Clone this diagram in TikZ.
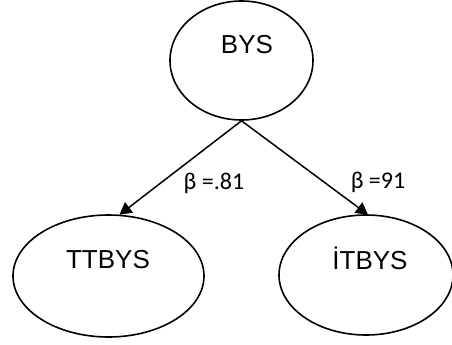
\documentclass[tikz,border=0pt]{standalone}
\usepackage{fontspec}
\setmainfont{Liberation Sans}
\newfontfamily\labfont{Carlito}
\usetikzlibrary{shapes.geometric,arrows.meta}
\begin{document}
\begin{tikzpicture}[x=1pt,y=-1pt,
  oval/.style={draw, ellipse, line width=1.6pt, inner sep=0pt},
  nametext/.style={font=\fontsize{26}{30}\selectfont, inner sep=0pt},
  betatext/.style={font=\labfont\fontsize{24}{28}\selectfont, inner sep=0pt},
  link/.style={line width=1.5pt, -{Triangle[length=12pt,width=13pt]}}]
\useasboundingbox (0,0) rectangle (452,345);
\node[oval, minimum width=143pt, minimum height=119pt] (b) at (241.5,60.5) {};
\node[oval, minimum width=191pt, minimum height=122pt] (t) at (108.5,276) {};
\node[oval, minimum width=174pt, minimum height=120pt] (i) at (366,275) {};
\node[nametext] (bl) at (247,45) {BYS};
\node[nametext] (tl) at (108,260) {TTBYS};
\node[nametext] (il) at (370,258) {İTBYS};
\draw[link] (b.south) -- ([xshift=11pt,yshift=-0.5pt]t.north);
\draw[link] (b.south) -- ([xshift=2pt,yshift=-0.5pt]i.north);
\node[betatext] (bt) at (214,183) {β =.81};
\node[betatext] (bi) at (378,182) {β =91};
\end{tikzpicture}
\end{document}
